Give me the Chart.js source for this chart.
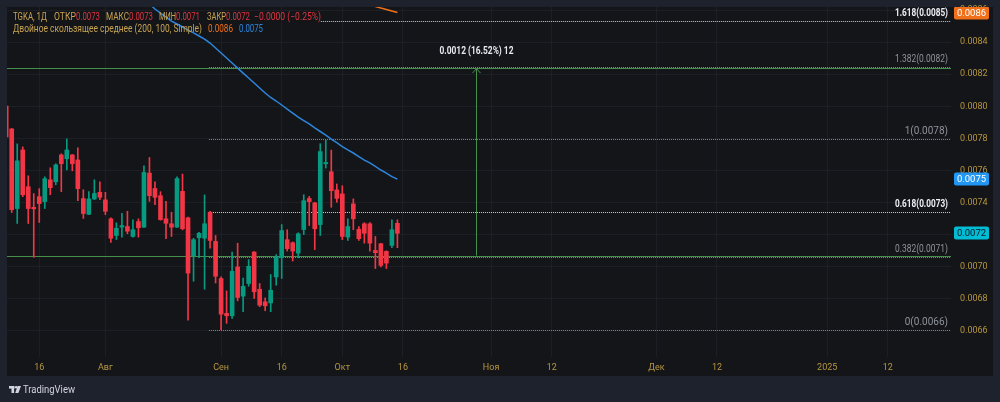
<!DOCTYPE html>
<html lang="ru">
<head>
<meta charset="utf-8">
<title>TGKA, 1Д</title>
<script src="https://cdn.jsdelivr.net/npm/chart.js@4.4.1/dist/chart.umd.min.js"></script>
<style>
html,body{margin:0;padding:0;background:#1e222d;overflow:hidden;}
canvas{display:block;}
</style>
</head>
<body>
<canvas id="c" width="1000" height="402"></canvas>
<script>
// ---------------- data (daily candles, bar index 0..71) ----------------
const openP = [0.008001,0.007859,0.007363,0.007728,0.007499,0.007371,0.007437,0.007406,0.007542,0.007530,
0.007697,0.007673,0.007697,0.007666,0.007425,0.007327,0.007423,0.007464,0.007417,0.007299,
0.007195,0.007247,0.007251,0.007189,0.007282,0.007247,0.007584,0.007488,0.007443,0.007299,
0.007268,0.007247,0.007470,0.007305,0.007069,0.007181,0.007178,0.007340,0.007158,0.006927,
0.006710,0.006695,0.006999,0.006817,0.006896,0.007092,0.006860,0.006782,0.006775,0.006937,
0.007057,0.007169,0.007150,0.007085,0.007232,0.007426,0.007398,0.007263,0.007642,0.007592,
0.007479,0.007454,0.007185,0.007392,0.007234,0.007268,0.007268,0.007102,0.007144,0.007096,
0.007133,0.007271];
const highP = [0.008010,0.007862,0.007766,0.007747,0.007567,0.007456,0.007487,0.007561,0.007617,0.007642,
0.007704,0.007797,0.007700,0.007741,0.007480,0.007468,0.007542,0.007530,0.007464,0.007305,
0.007274,0.007333,0.007346,0.007293,0.007299,0.007629,0.007681,0.007530,0.007468,0.007408,
0.007340,0.007561,0.007578,0.007310,0.007178,0.007215,0.007448,0.007345,0.007195,0.006937,
0.006850,0.007092,0.007147,0.006930,0.007045,0.007095,0.006896,0.006806,0.006952,0.007076,
0.007263,0.007231,0.007155,0.007212,0.007449,0.007439,0.007402,0.007767,0.007789,0.007727,
0.007516,0.007505,0.007299,0.007423,0.007251,0.007275,0.007275,0.007189,0.007147,0.007100,
0.007293,0.007293];
const lowP = [0.007800,0.007338,0.007270,0.007437,0.007270,0.007059,0.007276,0.007363,0.007449,0.007511,
0.007468,0.007604,0.007598,0.007412,0.007301,0.007325,0.007418,0.007418,0.007325,0.007152,
0.007170,0.007185,0.007206,0.007185,0.007185,0.007245,0.007408,0.007387,0.007290,0.007175,
0.007189,0.007245,0.007230,0.006668,0.006910,0.007057,0.006860,0.007116,0.006899,0.006606,
0.006648,0.006679,0.006788,0.006720,0.006879,0.006803,0.006751,0.006726,0.006720,0.006885,
0.006927,0.007098,0.007036,0.007057,0.007201,0.007257,0.007107,0.007195,0.007615,0.007371,
0.007402,0.007169,0.007164,0.007231,0.007164,0.007147,0.007098,0.006989,0.006999,0.006989,
0.007119,0.007119];
const closeP = [0.007809,0.007356,0.007660,0.007449,0.007363,0.007361,0.007394,0.007549,0.007493,0.007635,
0.007642,0.007728,0.007642,0.007487,0.007332,0.007423,0.007457,0.007433,0.007346,0.007178,
0.007240,0.007257,0.007222,0.007231,0.007243,0.007588,0.007443,0.007433,0.007294,0.007271,
0.007247,0.007550,0.007237,0.006961,0.007169,0.007209,0.007268,0.007164,0.006941,0.006705,
0.006695,0.006972,0.006809,0.006879,0.007003,0.006844,0.006761,0.006757,0.006854,0.007061,
0.007226,0.007113,0.007098,0.007206,0.007412,0.007406,0.007237,0.007718,0.007650,0.007474,
0.007426,0.007189,0.007251,0.007299,0.007175,0.007209,0.007147,0.007088,0.007009,0.007023,
0.007231,0.007209];

// SMA 100 (blue) from bar 25, SMA 200 (orange) from bar 64
const ma100Start = 25;
const ma100 = [0.008665,0.008637,0.008606,0.008581,0.008556,0.008531,0.008513,0.008494,0.008475,0.008457,
0.008438,0.008419,0.008394,0.008363,0.008332,0.008301,0.008270,0.008238,0.008207,0.008176,
0.008145,0.008114,0.008083,0.008055,0.008033,0.008008,0.007983,0.007958,0.007933,0.007911,
0.007890,0.007865,0.007843,0.007821,0.007796,0.007774,0.007749,0.007728,0.007709,0.007687,
0.007665,0.007647,0.007625,0.007603,0.007584,0.007562,0.007546];
const ma200Start = 64;
const ma200 = [0.008650,0.008641,0.008632,0.008622,0.008612,0.008603,0.008594,0.008584];

// time axis
const timeTickIdx = [6,18,39,50,61,72,88,99,118,129,149,160];
const timeLabels  = ['16','Авг','Сен','16','Окт','16','Ноя','12','Дек','12','2025','12'];
// price axis
const priceTicks = [0.0066,0.0068,0.0070,0.0072,0.0074,0.0076,0.0078,0.0080,0.0082,0.0084,0.0086];

// Fibonacci retracement
const fibRatios = ['0','0.382','0.618','1','1.382','1.618'];
const fibPrices = [0.006606,0.007061,0.007341,0.007796,0.008246,0.008531];
const fibBright = [false,false,true,false,false,true];

// price range measurement
const rangeLow = 0.007070, rangeHigh = 0.008238;
const rangeText = '0.0012 (16.52%) 12';
const changeText = '\u22120.0000 (\u22120.25%)';

// ---------------- view / style ----------------
const X_MIN = 0.145, X_MAX = 171.47;
const Y_MIN = 0.006438, Y_MAX = 0.0086187;
const FIB_START = 36.8, FIB_TOP_START = 57.1, ARROW_IDX = 85.35;
const UP = '#089981', DN = '#f23645';
const GRID = '#1c1f26', AXIS = '#b8963f', TAN = '#c8a452', RED = '#e0343f';
const ORANGE = '#f0701a', BLUE = '#2d86dc', GREEN = '#46904c';
const FONT = 'Roboto, "Liberation Sans", sans-serif';

const idx = openP.map((_, i) => i);
const colors = idx.map(i => closeP[i] >= openP[i] ? UP : DN);
const bodyData = idx.map(i => ({x: i, y: [openP[i], closeP[i]]}));
const wickData = idx.map(i => ({x: i, y: [lowP[i], highP[i]]}));
const ma100Pts = ma100.map((v, k) => ({x: ma100Start + k, y: v}));
const ma200Pts = ma200.map((v, k) => ({x: ma200Start + k, y: v}));

function txt(ctx, s, x, y, color, font, align, maxW) {
  ctx.font = font; ctx.fillStyle = color;
  ctx.textAlign = align || 'left'; ctx.textBaseline = 'middle';
  if (maxW && ctx.measureText(s).width > maxW) ctx.fillText(s, x, y, maxW);
  else ctx.fillText(s, x, y);
}

const bgPlugin = {
  id: 'bg',
  beforeDraw(chart) {
    const c = chart.ctx;
    c.save();
    c.fillStyle = '#1e222d'; c.fillRect(0, 0, 1000, 402);
    c.fillStyle = '#131519'; c.fillRect(7, 7, 986, 369);
    c.restore();
  }
};

const underlay = {
  id: 'underlay',
  beforeDatasetsDraw(chart) {
    const c = chart.ctx, a = chart.chartArea, xs = chart.scales.x, ys = chart.scales.y;
    c.save();
    c.beginPath(); c.rect(a.left, a.top, a.right - a.left, a.bottom - a.top); c.clip();
    // range horizontal lines
    c.strokeStyle = GREEN; c.lineWidth = 1;
    [rangeLow, rangeHigh].forEach(p => {
      const y = Math.round(ys.getPixelForValue(p)) + 0.5;
      c.beginPath(); c.moveTo(a.left, y); c.lineTo(a.right, y); c.stroke();
    });
    // fib dotted lines
    c.setLineDash([1, 1]);
    fibPrices.forEach((p, k) => {
      const y = Math.round(ys.getPixelForValue(p)) + 0.5;
      const x0 = xs.getPixelForValue(k === 5 ? FIB_TOP_START : FIB_START);
      c.strokeStyle = fibBright[k] ? '#c9ccd4' : '#80838d';
      c.beginPath(); c.moveTo(x0, y); c.lineTo(a.right, y); c.stroke();
    });
    c.setLineDash([]);
    // arrow
    const ax = Math.round(xs.getPixelForValue(ARROW_IDX)) + 0.5;
    const y0 = ys.getPixelForValue(rangeLow), y1 = ys.getPixelForValue(rangeHigh);
    c.strokeStyle = GREEN; c.lineWidth = 1;
    c.beginPath(); c.moveTo(ax, y0); c.lineTo(ax, y1 + 0.5); c.stroke();
    c.beginPath(); c.moveTo(ax - 4, y1 + 5); c.lineTo(ax, y1 + 0.5); c.lineTo(ax + 4, y1 + 5); c.stroke();
    c.restore();
  }
};

function badge(c, yv, text, bg, fg) {
  c.save();
  c.beginPath(); c.rect(7, 7, 986, 369); c.clip();
  const y = Math.round(yv);
  c.fillStyle = bg;
  c.beginPath(); c.roundRect(954, y - 6.5, 35, 13, 2); c.fill();
  txt(c, text, 971.5, y + 0.5, fg, '9.5px ' + FONT, 'center');
  c.restore();
}

const overlay = {
  id: 'overlay',
  afterDraw(chart) {
    const c = chart.ctx, xs = chart.scales.x, ys = chart.scales.y;
    c.save();
    // fib labels
    fibPrices.forEach((p, k) => {
      const y = ys.getPixelForValue(p) - 7.5;
      const s = fibRatios[k] + '(' + p.toFixed(4) + ')';
      if (fibBright[k]) txt(c, s, 948, y, '#eef0f4', 'bold 10px ' + FONT, 'right', 53);
      else txt(c, s, 948, y, '#8f929b', '10px ' + FONT, 'right', 53);
    });
    // range label
    const ax = xs.getPixelForValue(ARROW_IDX);
    txt(c, rangeText, ax, ys.getPixelForValue(rangeHigh) - 16.5, '#e6e8ee', 'bold 10px ' + FONT, 'center', 74);
    // legend
    const L = openP.length - 1, f = v => v.toFixed(4);
    const segs1 = [
      ['TGKA, 1Д', 13, 34, TAN], ['ОТКР', 54, 22, TAN], [f(openP[L]), 76, 24, RED],
      ['МАКС', 106, 23, TAN], [f(highP[L]), 129, 24, RED],
      ['МИН', 159, 17, TAN], [f(lowP[L]), 176, 24, RED],
      ['ЗАКР', 207, 19, TAN], [f(closeP[L]), 226, 24, RED],
      [changeText, 254, 67, RED]
    ];
    segs1.forEach(s => txt(c, s[0], s[1], 17.5, s[3], '10px ' + FONT, 'left', s[2]));
    const segs2 = [
      ['Двойное скользящее среднее (200, 100, Simple)', 13, 189, TAN],
      [f(ma200[ma200.length - 1]), 208, 25, ORANGE],
      [f(ma100[ma100.length - 1]), 239, 24, BLUE]
    ];
    segs2.forEach(s => txt(c, s[0], s[1], 29.5, s[3], '10px ' + FONT, 'left', s[2]));
    c.restore();
    // price badges
    badge(c, ys.getPixelForValue(ma200[ma200.length - 1]), f(ma200[ma200.length - 1]), ORANGE, '#ffffff');
    badge(c, ys.getPixelForValue(ma100[ma100.length - 1]), f(ma100[ma100.length - 1]), '#2196f3', '#ffffff');
    badge(c, ys.getPixelForValue(closeP[L]), f(closeP[L]), '#00bcd4', '#131722');
    // TradingView logo
    c.save();
    c.fillStyle = '#d1d4dc';
    c.fillRect(9, 386, 5.5, 2.6);
    c.fillRect(11.5, 386, 2.6, 7);
    c.beginPath(); c.arc(16.2, 387.3, 1.3, 0, Math.PI * 2); c.fill();
    c.beginPath(); c.moveTo(17.6, 386); c.lineTo(21, 386); c.lineTo(18.4, 393); c.lineTo(15.2, 393); c.closePath(); c.fill();
    txt(c, 'TradingView', 23, 390, '#d1d4dc', '10px ' + FONT, 'left', 52);
    c.restore();
  }
};

new Chart(document.getElementById('c'), {
  type: 'bar',
  data: {
    datasets: [
      {type: 'line', data: ma100Pts, borderColor: BLUE, borderWidth: 1.5, pointRadius: 0, tension: 0, order: 0},
      {type: 'line', data: ma200Pts, borderColor: ORANGE, borderWidth: 1.5, pointRadius: 0, tension: 0, order: 0},
      {data: bodyData, backgroundColor: colors, borderWidth: 0, barThickness: 4, minBarLength: 1, grouped: false, order: 1},
      {data: wickData, backgroundColor: colors, borderWidth: 0, barThickness: 1, grouped: false, order: 2}
    ]
  },
  options: {
    responsive: false, animation: false, devicePixelRatio: 1, events: [],
    layout: {padding: {left: 7, top: 7, right: 7, bottom: 26}},
    plugins: {legend: {display: false}, tooltip: {enabled: false}},
    scales: {
      x: {
        type: 'linear', position: 'bottom', min: X_MIN, max: X_MAX, offset: false,
        grid: {color: GRID, drawTicks: false, offset: false}, border: {display: false},
        afterBuildTicks: s => { s.ticks = timeTickIdx.map(v => ({value: v})); },
        afterFit: s => { s.height = 19; s.paddingLeft = 0; s.paddingRight = 0; },
        ticks: {autoSkip: false, maxRotation: 0, minRotation: 0, padding: 5, color: AXIS,
                font: {family: FONT, size: 9}, callback: (v, i) => timeLabels[i]}
      },
      y: {
        type: 'linear', position: 'right', min: Y_MIN, max: Y_MAX, beginAtZero: false,
        grid: {color: GRID, drawTicks: false}, border: {display: false},
        afterBuildTicks: s => { s.ticks = priceTicks.map(v => ({value: v})); },
        afterFit: s => { s.width = 42; s.paddingTop = 0; s.paddingBottom = 0; },
        ticks: {padding: 9, color: AXIS, font: {family: FONT, size: 9}, callback: v => v.toFixed(4)}
      }
    }
  },
  plugins: [bgPlugin, underlay, overlay]
});
</script>
</body>
</html>
